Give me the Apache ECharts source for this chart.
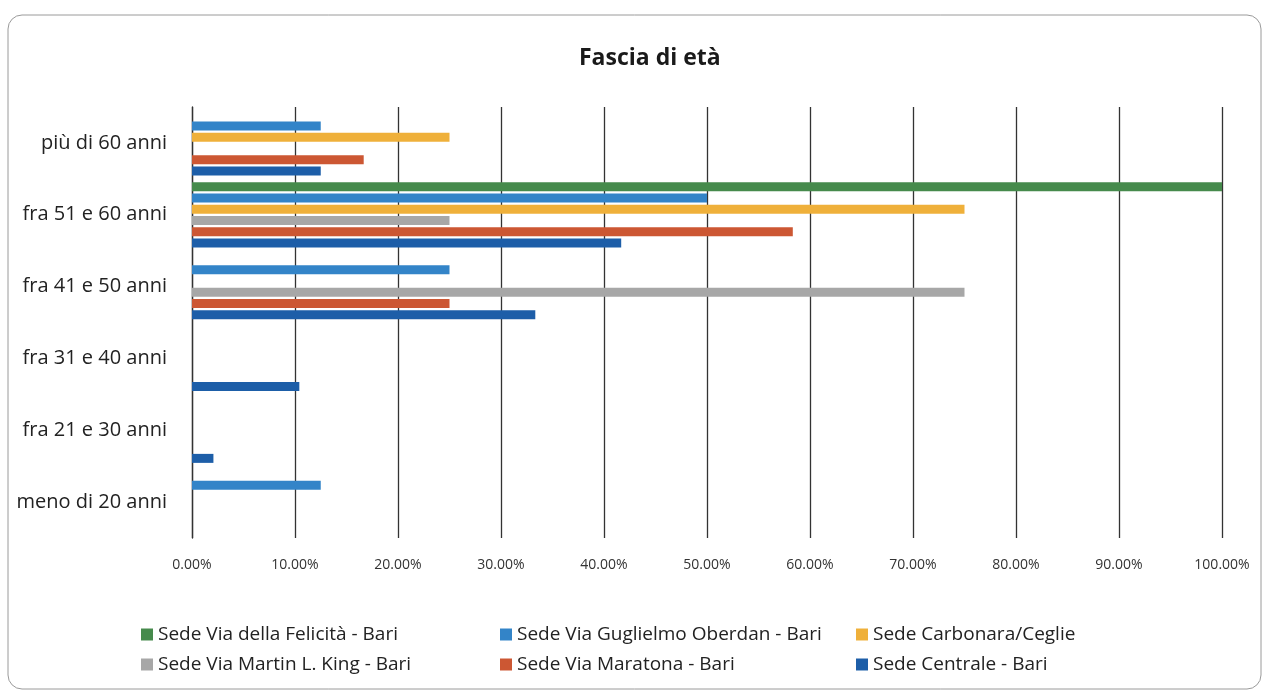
<!DOCTYPE html>
<html>
<head>
<meta charset="utf-8">
<script src="https://cdn.jsdelivr.net/npm/echarts@6/dist/echarts.min.js"></script>
<style>
html,body{margin:0;padding:0;background:#fff;}
#chart{width:1269px;height:693px;}
</style>
</head>
<body>
<div id="chart"></div>
<script>
// Categories bottom to top
const categories = ['meno di 20 anni','fra 21 e 30 anni','fra 31 e 40 anni','fra 41 e 50 anni','fra 51 e 60 anni','più di 60 anni'];
const xTicks = [0,10,20,30,40,50,60,70,80,90,100];

const nameFelicita   = 'Sede Via della Felicità - Bari';
const nameOberdan    = 'Sede Via Guglielmo Oberdan - Bari';
const nameCarbonara  = 'Sede Carbonara/Ceglie';
const nameKing       = 'Sede Via Martin L. King - Bari';
const nameMaratona   = 'Sede Via Maratona - Bari';
const nameCentrale   = 'Sede Centrale - Bari';

const valFelicita  = [0, 0, 0, 0, 100, 0];
const valOberdan   = [12.5, 0, 0, 25, 50, 12.5];
const valCarbonara = [0, 0, 0, 0, 75, 25];
const valKing      = [0, 0, 0, 75, 25, 0];
const valMaratona  = [0, 0, 0, 25, 58.33, 16.67];
const valCentrale  = [0, 2.08, 10.42, 33.33, 41.67, 12.5];

const colors = {
  Centrale:'#1d5ea8', Maratona:'#cc5733', King:'#a7a7a7',
  Carbonara:'#efb03a', Oberdan:'#3384c8', Felicita:'#468a4c'
};

const chart = echarts.init(document.getElementById('chart'));
const font = '"Open Sans", "Noto Sans", sans-serif';
function bar(name, data, color){
  return {name, type:'bar', data, barWidth:9, barGap:'25%', itemStyle:{color}};
}
const legendCommon = {orient:'vertical', itemWidth:12, itemHeight:12, itemGap:11, icon:'rect',
  textStyle:{fontFamily:font, fontSize:19, color:'#222'}};
chart.setOption({
  animation:false,
  backgroundColor:'#fff',
  textStyle:{fontFamily:font},
  graphic:[{type:'rect', shape:{x:8,y:15,width:1253,height:674,r:14}, style:{fill:'none', stroke:'#9a9a9a', lineWidth:1}}],
  title:{text:'Fascia di età', left:574, top:42, textStyle:{fontFamily:font, fontSize:23, fontWeight:'bold', color:'#1a1a1a'}},
  grid:{left:192, right:47, top:107, bottom:155},
  xAxis:{type:'value', min:0, max:100, interval:10,
    axisLine:{show:false}, axisTick:{show:false},
    splitLine:{show:true, lineStyle:{color:'#333', width:1.3}},
    axisLabel:{margin:20, fontSize:14, color:'#333', formatter:v=>v.toFixed(2)+'%'}},
  yAxis:{type:'category', data:categories,
    axisLine:{show:true, lineStyle:{color:'#333', width:1.3}}, axisTick:{show:false},
    axisLabel:{margin:25, fontSize:20, color:'#222'}},
  legend:[
    Object.assign({left:136, top:620, data:[nameFelicita, nameKing]}, legendCommon),
    Object.assign({left:495, top:620, data:[nameOberdan, nameMaratona]}, legendCommon),
    Object.assign({left:851, top:620, data:[nameCarbonara, nameCentrale]}, legendCommon)
  ],
  series:[
    bar(nameCentrale, valCentrale, colors.Centrale),
    bar(nameMaratona, valMaratona, colors.Maratona),
    bar(nameKing, valKing, colors.King),
    bar(nameCarbonara, valCarbonara, colors.Carbonara),
    bar(nameOberdan, valOberdan, colors.Oberdan),
    bar(nameFelicita, valFelicita, colors.Felicita)
  ].reverse()
});
</script>
</body>
</html>
